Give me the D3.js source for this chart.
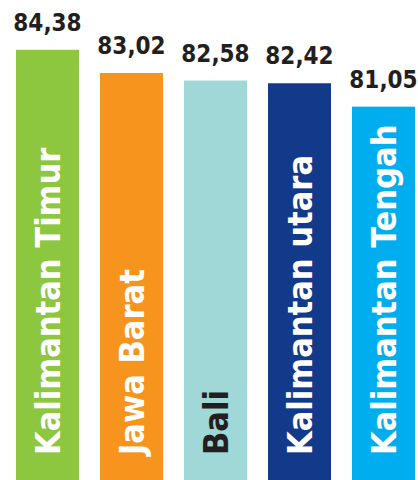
<!DOCTYPE html>
<html lang="id">
<head>
<meta charset="utf-8">
<title>bars</title>
<script src="https://cdn.jsdelivr.net/npm/d3@7"></script>
<style>
  html, body { margin: 0; padding: 0; background: #fff; }
  svg { display: block; }
  .val { font-family: "DejaVu Sans Condensed", "DejaVu Sans", sans-serif; font-weight: bold; fill: #231f20; }
  .name { font-family: "DejaVu Sans Condensed", "DejaVu Sans", sans-serif; font-weight: bold; }
</style>
</head>
<body>
<script>
var provinces = ["Kalimantan Timur", "Jawa Barat", "Bali", "Kalimantan utara", "Kalimantan Tengah"];
var scores = [84.38, 83.02, 82.58, 82.42, 81.05];
var scoreLabels = ["84,38", "83,02", "82,58", "82,42", "81,05"];
var colors = ["#8dc63f", "#f7941d", "#a0d8d7", "#133a8a", "#00aeef"];
var nameColors = ["#fff", "#fff", "#231f20", "#fff", "#fff"];

var w = 418, h = 480;

var svg = d3.select("body").append("svg")
    .attr("width", w)
    .attr("height", h);

var x = d3.scaleBand()
    .domain(provinces)
    .range([16, 415])
    .paddingInner(0.25)
    .paddingOuter(0);

var y = d3.scaleLinear()
    .domain([59.18, 84.38])
    .range([h, 49.8]);

var bars = svg.selectAll("g.bar")
    .data(provinces)
    .enter().append("g")
    .attr("class", "bar");

bars.append("rect")
    .attr("x", function(d) { return x(d); })
    .attr("y", function(d, i) { return y(scores[i]); })
    .attr("width", x.bandwidth())
    .attr("height", function(d, i) { return h - y(scores[i]); })
    .attr("fill", function(d, i) { return colors[i]; });

bars.append("text")
    .attr("class", "val")
    .attr("x", function(d) { return x(d) + x.bandwidth() / 2; })
    .attr("y", function(d, i) { return y(scores[i]) - 19; })
    .attr("text-anchor", "middle")
    .attr("font-size", 24)
    .text(function(d, i) { return scoreLabels[i]; });

// province names, rotated, reading bottom to top
bars.append("text")
    .attr("class", "name")
    .attr("font-size", 34)
    .attr("fill", function(d, i) { return nameColors[i]; })
    .attr("transform", function(d) {
        var cx = x(d) + x.bandwidth() / 2 + 12.5;
        return "translate(" + cx + "," + 455 + ") rotate(-90)";
    })
    .text(function(d) { return d; });
</script>
</body>
</html>
